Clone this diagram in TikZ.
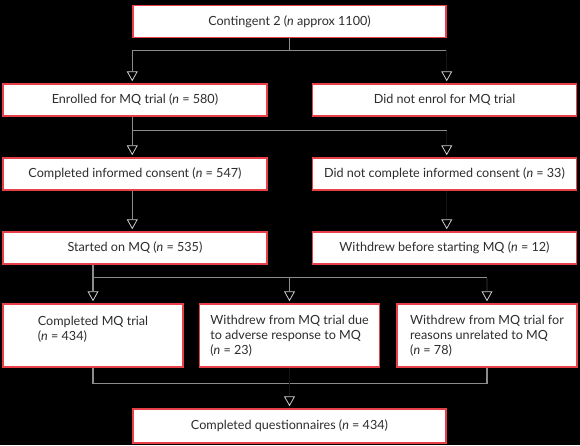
\documentclass[tikz,border=0pt]{standalone}
\usepackage{fontspec}
\setmainfont{Lato}
\usetikzlibrary{arrows.meta,calc}

\definecolor{boxred}{RGB}{232,64,72}
\definecolor{linegray}{RGB}{140,140,140}
\definecolor{tipgray}{RGB}{205,205,205}
\definecolor{textgray}{RGB}{45,45,45}
\definecolor{faintgray}{RGB}{22,22,22}

\tikzset{
  box/.style={draw=boxred, line width=1.5pt, fill=white, text=textgray,
    minimum height=32pt, inner sep=0pt, font=\fontsize{12.6}{15}\selectfont},
  widebox/.style={box, minimum width=264pt},
  tallbox/.style={box, minimum width=180pt, minimum height=63pt, align=left},
  flow/.style={draw=linegray, line width=1.2pt},
  hidden/.style={draw=faintgray, line width=1.2pt},
  downarrow/.style={-{Triangle[width=11pt,length=10pt,fill=black,color=tipgray,line width=0.8pt]}, shorten >=2pt},
}

\begin{document}
\begin{tikzpicture}[x=1pt,y=-1pt]
    % Background
    \fill[black] (0,0) rectangle (580,445);

    % Define the boxes
    \node[box, minimum width=313pt] (c2) at (289.5,21.5) {Contingent 2 (\textit{n} approx 1100)};
    \node[widebox] (enr) at (135,100) {Enrolled for MQ trial (\textit{n} = 580)};
    \node[widebox] (nenr) at (444.5,100) {Did not enrol for MQ trial};
    \node[widebox] (cons) at (135,174) {Completed informed consent (\textit{n} = 547)};
    \node[widebox] (ncons) at (444.5,174) {Did not complete informed consent (\textit{n} = 33)};
    \node[widebox] (start) at (135,248) {Started on MQ (\textit{n} = 535)};
    \node[widebox] (wbef) at (444.5,248) {Withdrew before starting MQ (\textit{n} = 12)};
    \node[tallbox] (cmq) at (93,335.5) {Completed MQ trial\\(\textit{n} = 434)\\~};
    \node[tallbox] (wadv) at (289.5,335.5) {Withdrew from MQ trial due\\to adverse response to MQ\\(\textit{n} = 23)};
    \node[tallbox] (wunr) at (487,335.5) {Withdrew from MQ trial for\\reasons unrelated to MQ\\(\textit{n} = 78)};
    \node[box, minimum width=313pt, minimum height=34pt] (cq) at (289.5,426) {Completed questionnaires (\textit{n} = 434)};

    % Split below the contingent
    \coordinate (s1) at ($(c2.south)+(0,12)$);
    \draw[flow] (c2.south) -- (s1);
    \draw[flow] (c2.west |- s1) -- (c2.east |- s1);
    \draw[flow, downarrow] (c2.west |- s1) -- (c2.west |- enr.north);
    \draw[hidden, downarrow] (c2.east |- s1) -- (c2.east |- nenr.north);

    % Split below enrolment
    \coordinate (s2) at ($(enr.south)+(0,14)$);
    \draw[flow, downarrow] (c2.west |- enr.south) -- (c2.west |- cons.north);
    \draw[flow] (c2.west |- s2) -- (c2.east |- s2);
    \draw[hidden, downarrow] (c2.east |- s2) -- (c2.east |- ncons.north);

    % Consent to start
    \draw[flow, downarrow] (c2.west |- cons.south) -- (c2.west |- start.north);
    \draw[hidden, downarrow] (c2.east |- ncons.south) -- (c2.east |- wbef.north);

    % Split below the start of MQ
    \coordinate (s4) at ($(start.south)+(0,13)$);
    \draw[flow] (cmq |- start.south) -- (cmq |- s4) -- (wunr |- s4);
    \draw[flow, downarrow] (cmq |- s4) -- (cmq.north);
    \draw[flow, downarrow] (wadv |- s4) -- (wadv.north);
    \draw[hidden, downarrow] (wunr |- s4) -- (wunr.north);

    % Join into the questionnaires
    \coordinate (s5) at ($(cmq.south)+(0,16)$);
    \draw[flow] (cmq.south) -- (cmq |- s5) -- (wunr |- s5) -- (wunr.south);
    \draw[hidden, downarrow] (wadv.south) -- (cq.north);
\end{tikzpicture}
\end{document}
